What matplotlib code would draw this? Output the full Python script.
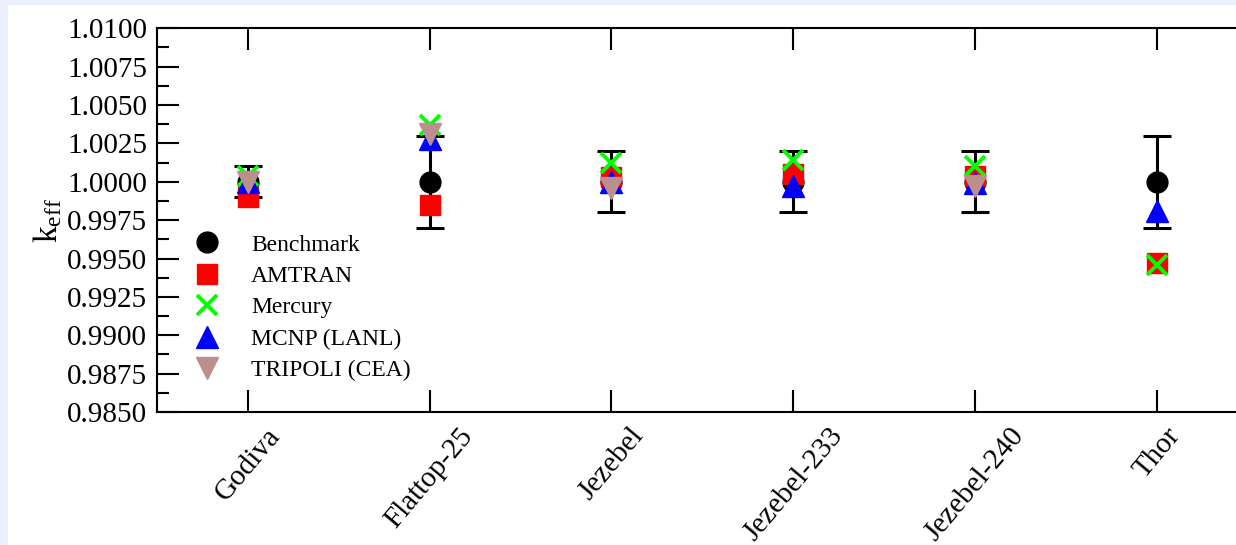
import numpy as np
import matplotlib
matplotlib.use("Agg")
import matplotlib.pyplot as plt
from matplotlib.patches import Rectangle
from matplotlib.ticker import MultipleLocator, FormatStrFormatter

plt.rcParams['font.family'] = ['Liberation Serif', 'DejaVu Serif']
plt.rcParams['mathtext.fontset'] = 'custom'
plt.rcParams['mathtext.rm'] = 'Liberation Serif'
plt.rcParams['mathtext.it'] = 'Liberation Serif:italic'

categories = ['Godiva', 'Flattop-25', 'Jezebel', 'Jezebel-233', 'Jezebel-240', 'Thor']
benchmark = [1.0000, 1.0000, 1.0000, 1.0000, 1.0000, 1.0000]
bench_err = [0.0010, 0.0030, 0.0020, 0.0020, 0.0020, 0.0030]
amtran = [0.9990, 0.9985, 1.0003, 1.0005, 1.0004, 0.9947]
mercury = [1.0004, 1.0037, 1.0012, 1.0014, 1.0010, 0.9946]
mcnp = [1.0000, 1.0028, 1.0000, 0.9997, 0.9999, 0.9981]
tripoli = [1.0000, 1.0031, 0.9996, np.nan, 0.9997, np.nan]
yticks = [0.9850, 0.9875, 0.9900, 0.9925, 0.9950, 0.9975, 1.0000, 1.0025, 1.0050, 1.0075, 1.0100]

W, H = 1236, 545
fig = plt.figure(figsize=(W / 100, H / 100), dpi=100)
fig.patch.set_facecolor('#EBF0FC')
bg = Rectangle((8 / W, 0), 1, 1 - 5 / H, transform=fig.transFigure,
               facecolor='white', edgecolor='none', zorder=-10)
fig.patches.append(bg)

left, right, top, bottom = 156.7, 1248.0, 28.3, 412.0
ax = fig.add_axes([left / W, 1 - bottom / H, (right - left) / W, (bottom - top) / H])
ax.set_zorder(5)
ax.set_facecolor('none')

x = np.arange(1, len(categories) + 1)

ax.errorbar(x, benchmark, yerr=bench_err, fmt='none', ecolor='black',
            elinewidth=2.2, capsize=10, capthick=2.2, zorder=2)
ax.plot(x, benchmark, 'o', color='black', markersize=15, linestyle='none',
        label='Benchmark', zorder=3)
ax.plot(x, amtran, 's', color='#FF0000', markersize=14.5, linestyle='none',
        label='AMTRAN', zorder=4)
ax.plot(x, mercury, 'x', color='#00FF00', markersize=14, markeredgewidth=2.8,
        linestyle='none', label='Mercury', zorder=5)
ax.plot(x, mcnp, '^', color='#0000FF', markersize=15.5, linestyle='none',
        label='MCNP (LANL)', zorder=6)
ax.plot(x, tripoli, 'v', color='#BC8F8F', markersize=15.5, linestyle='none',
        label='TRIPOLI (CEA)', zorder=7)

ax.set_xlim(0.5, 6.5)
ax.set_ylim(0.9850, 1.0100)
ax.set_xticks(x)
ax.set_xticklabels(categories, rotation=50, fontsize=21)
ax.set_yticks(yticks)
ax.yaxis.set_major_formatter(FormatStrFormatter('%.4f'))
ax.yaxis.set_minor_locator(MultipleLocator(0.00125))
for lbl in ax.get_yticklabels():
    lbl.set_fontsize(21)

ax.tick_params(axis='both', which='major', direction='in', length=16, width=1.5,
               top=True, right=False, color='black')
ax.tick_params(axis='y', which='major', pad=7)
ax.tick_params(axis='x', which='major', pad=8)
ax.tick_params(axis='y', which='minor', direction='in', length=8.5, width=1.5, right=False)
for s in ax.spines.values():
    s.set_linewidth(1.5)

ax.set_ylabel(r'k$_{\rm eff}$', fontsize=24, labelpad=2)

leg = ax.legend(loc='upper left', bbox_to_anchor=(185 / W, 1 - 234 / H),
                bbox_transform=fig.transFigure, frameon=False, fontsize=17,
                numpoints=1, handlelength=1.9, handletextpad=0.9,
                labelspacing=0.42, borderpad=0, borderaxespad=0)

fig.savefig('out.png', dpi=100, facecolor=fig.get_facecolor())
